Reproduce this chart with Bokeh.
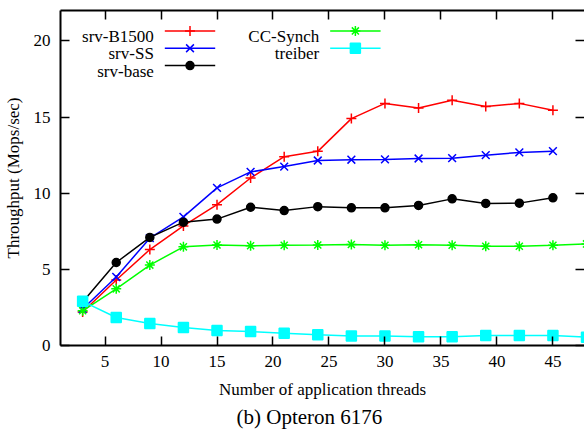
from bokeh.plotting import figure
from bokeh.models import Range1d, LinearAxis, FixedTicker, Label, Title
from bokeh.embed import file_html
from bokeh.resources import INLINE

# ---- data ----
threads = [3, 6, 9, 12, 15, 18, 21, 24, 27, 30, 33, 36, 39, 42, 45]
threads_ext = [3, 6, 9, 12, 15, 18, 21, 24, 27, 30, 33, 36, 39, 42, 45, 48]

srv_b1500 = [2.2, 4.3, 6.3, 7.85, 9.25, 11.0, 12.4, 12.75, 14.9, 15.9, 15.6, 16.1, 15.7, 15.9, 15.45]
srv_ss = [2.4, 4.5, 7.05, 8.45, 10.35, 11.4, 11.75, 12.15, 12.2, 12.22, 12.28, 12.3, 12.5, 12.68, 12.76]
srv_base = [2.85, 5.45, 7.1, 8.1, 8.3, 9.08, 8.86, 9.12, 9.04, 9.04, 9.2, 9.63, 9.33, 9.35, 9.7]
cc_synch = [2.28, 3.72, 5.28, 6.48, 6.6, 6.55, 6.58, 6.6, 6.63, 6.58, 6.62, 6.58, 6.52, 6.52, 6.58, 6.67]
treiber = [2.9, 1.84, 1.45, 1.18, 0.98, 0.92, 0.8, 0.7, 0.63, 0.62, 0.57, 0.57, 0.66, 0.66, 0.66, 0.55]

x_ticks = [5, 10, 15, 20, 25, 30, 35, 40, 45]
y_ticks = [0, 5, 10, 15, 20]

x_label = "Number of application threads"
y_label = "Throughput (Mops/sec)"
caption = "(b) Opteron 6176"

FONT = "Liberation Serif"
FS = "17px"

W, H = 584, 432
LEFT, TOP, BOTTOM = 58, 10, 87

p = figure(width=W, height=H, output_backend="svg", toolbar_location=None,
           x_range=Range1d(1.023, 47.82), y_range=Range1d(0, 22),
           min_border_left=LEFT, min_border_right=0, min_border_top=TOP,
           min_border_bottom=BOTTOM)
p.xgrid.visible = False
p.ygrid.visible = False
p.outline_line_color = None
p.background_fill_color = "white"
p.border_fill_color = "white"


def style_axis(ax, ticks, show_labels=True, show_line=True):
    ax.ticker = FixedTicker(ticks=ticks)
    ax.major_tick_in = 9
    ax.major_tick_out = 0
    ax.major_tick_line_width = 1.5
    ax.major_tick_line_color = "black"
    ax.minor_tick_line_color = None
    ax.axis_line_width = 2
    ax.axis_line_color = "black" if show_line else None
    ax.major_label_text_font = FONT
    ax.major_label_text_color = "black"
    if show_labels:
        ax.major_label_text_font_size = FS
    else:
        ax.major_label_overrides = {t: "" for t in ticks}
        ax.major_label_text_font_size = "0px"
        ax.major_label_standoff = 0


style_axis(p.xaxis[0], x_ticks)
style_axis(p.yaxis[0], y_ticks)
p.xaxis[0].major_label_standoff = 10
p.yaxis[0].major_label_standoff = 10
for ax in (p.xaxis[0], p.yaxis[0]):
    ax.axis_label_text_font = FONT
    ax.axis_label_text_font_size = FS
    ax.axis_label_text_font_style = "normal"
    ax.axis_label_text_color = "black"
p.xaxis[0].axis_label = x_label
p.yaxis[0].axis_label = y_label
p.xaxis[0].axis_label_standoff = 10
p.yaxis[0].axis_label_standoff = 8

top_axis = LinearAxis()
style_axis(top_axis, x_ticks, show_labels=False)
p.add_layout(top_axis, "above")
right_axis = LinearAxis()
style_axis(right_axis, y_ticks, show_labels=False, show_line=False)
p.add_layout(right_axis, "right")

p.add_layout(Title(text=caption, align="left", offset=176, standoff=3,
                   text_font=FONT, text_font_size="21px", text_font_style="normal",
                   text_color="black"), "below")

# ---- series ----
series = [
    ("srv-B1500", threads, srv_b1500, "#ff0000", "cross", 10),
    ("srv-SS", threads, srv_ss, "#0000ff", "x", 11),
    ("srv-base", threads, srv_base, "#000000", "circle", 8),
    ("CC-Synch", threads_ext, cc_synch, "#00ff00", "asterisk", 10),
    ("treiber", threads_ext, treiber, "#00ffff", "square", 10),
]

for name, xs, ys, col, mk, sz in series:
    p.line(xs, ys, line_color=col, line_width=1.5)
    filled = mk in ("circle", "square")
    p.scatter(xs, ys, marker=mk, size=sz, line_color=col, line_width=1.5,
              fill_color=col if filled else None)

# ---- legend (gnuplot style: text right-aligned, sample to the right) ----
p.extra_x_ranges = {"px": Range1d(LEFT, W)}
p.extra_y_ranges = {"px": Range1d(H - BOTTOM, TOP)}

col_text_right = [151.7, 317.7]
sample_len = 50.6
sample_gap = 11
row_base = 36.0
row_step = 17.35
rows_per_col = 3

for i, (name, xs, ys, col, mk, sz) in enumerate(series):
    c = i // rows_per_col
    r = i % rows_per_col
    tr = col_text_right[c]
    yb = row_base + r * row_step
    ym = yb - 5.6
    x0 = tr + sample_gap
    x1 = x0 + sample_len
    p.add_layout(Label(x=tr, y=yb, x_range_name="px", y_range_name="px", text=name,
                       text_font=FONT, text_font_size=FS, text_align="right",
                       text_baseline="alphabetic", text_color="black"))
    p.line([x0, x1], [ym, ym], x_range_name="px", y_range_name="px",
           line_color=col, line_width=1.5)
    filled = mk in ("circle", "square")
    p.scatter([(x0 + x1) / 2], [ym], x_range_name="px", y_range_name="px",
              marker=mk, size=sz, line_color=col, line_width=1.5,
              fill_color=col if filled else None)

open("out.html", "w").write(file_html(p, INLINE))
